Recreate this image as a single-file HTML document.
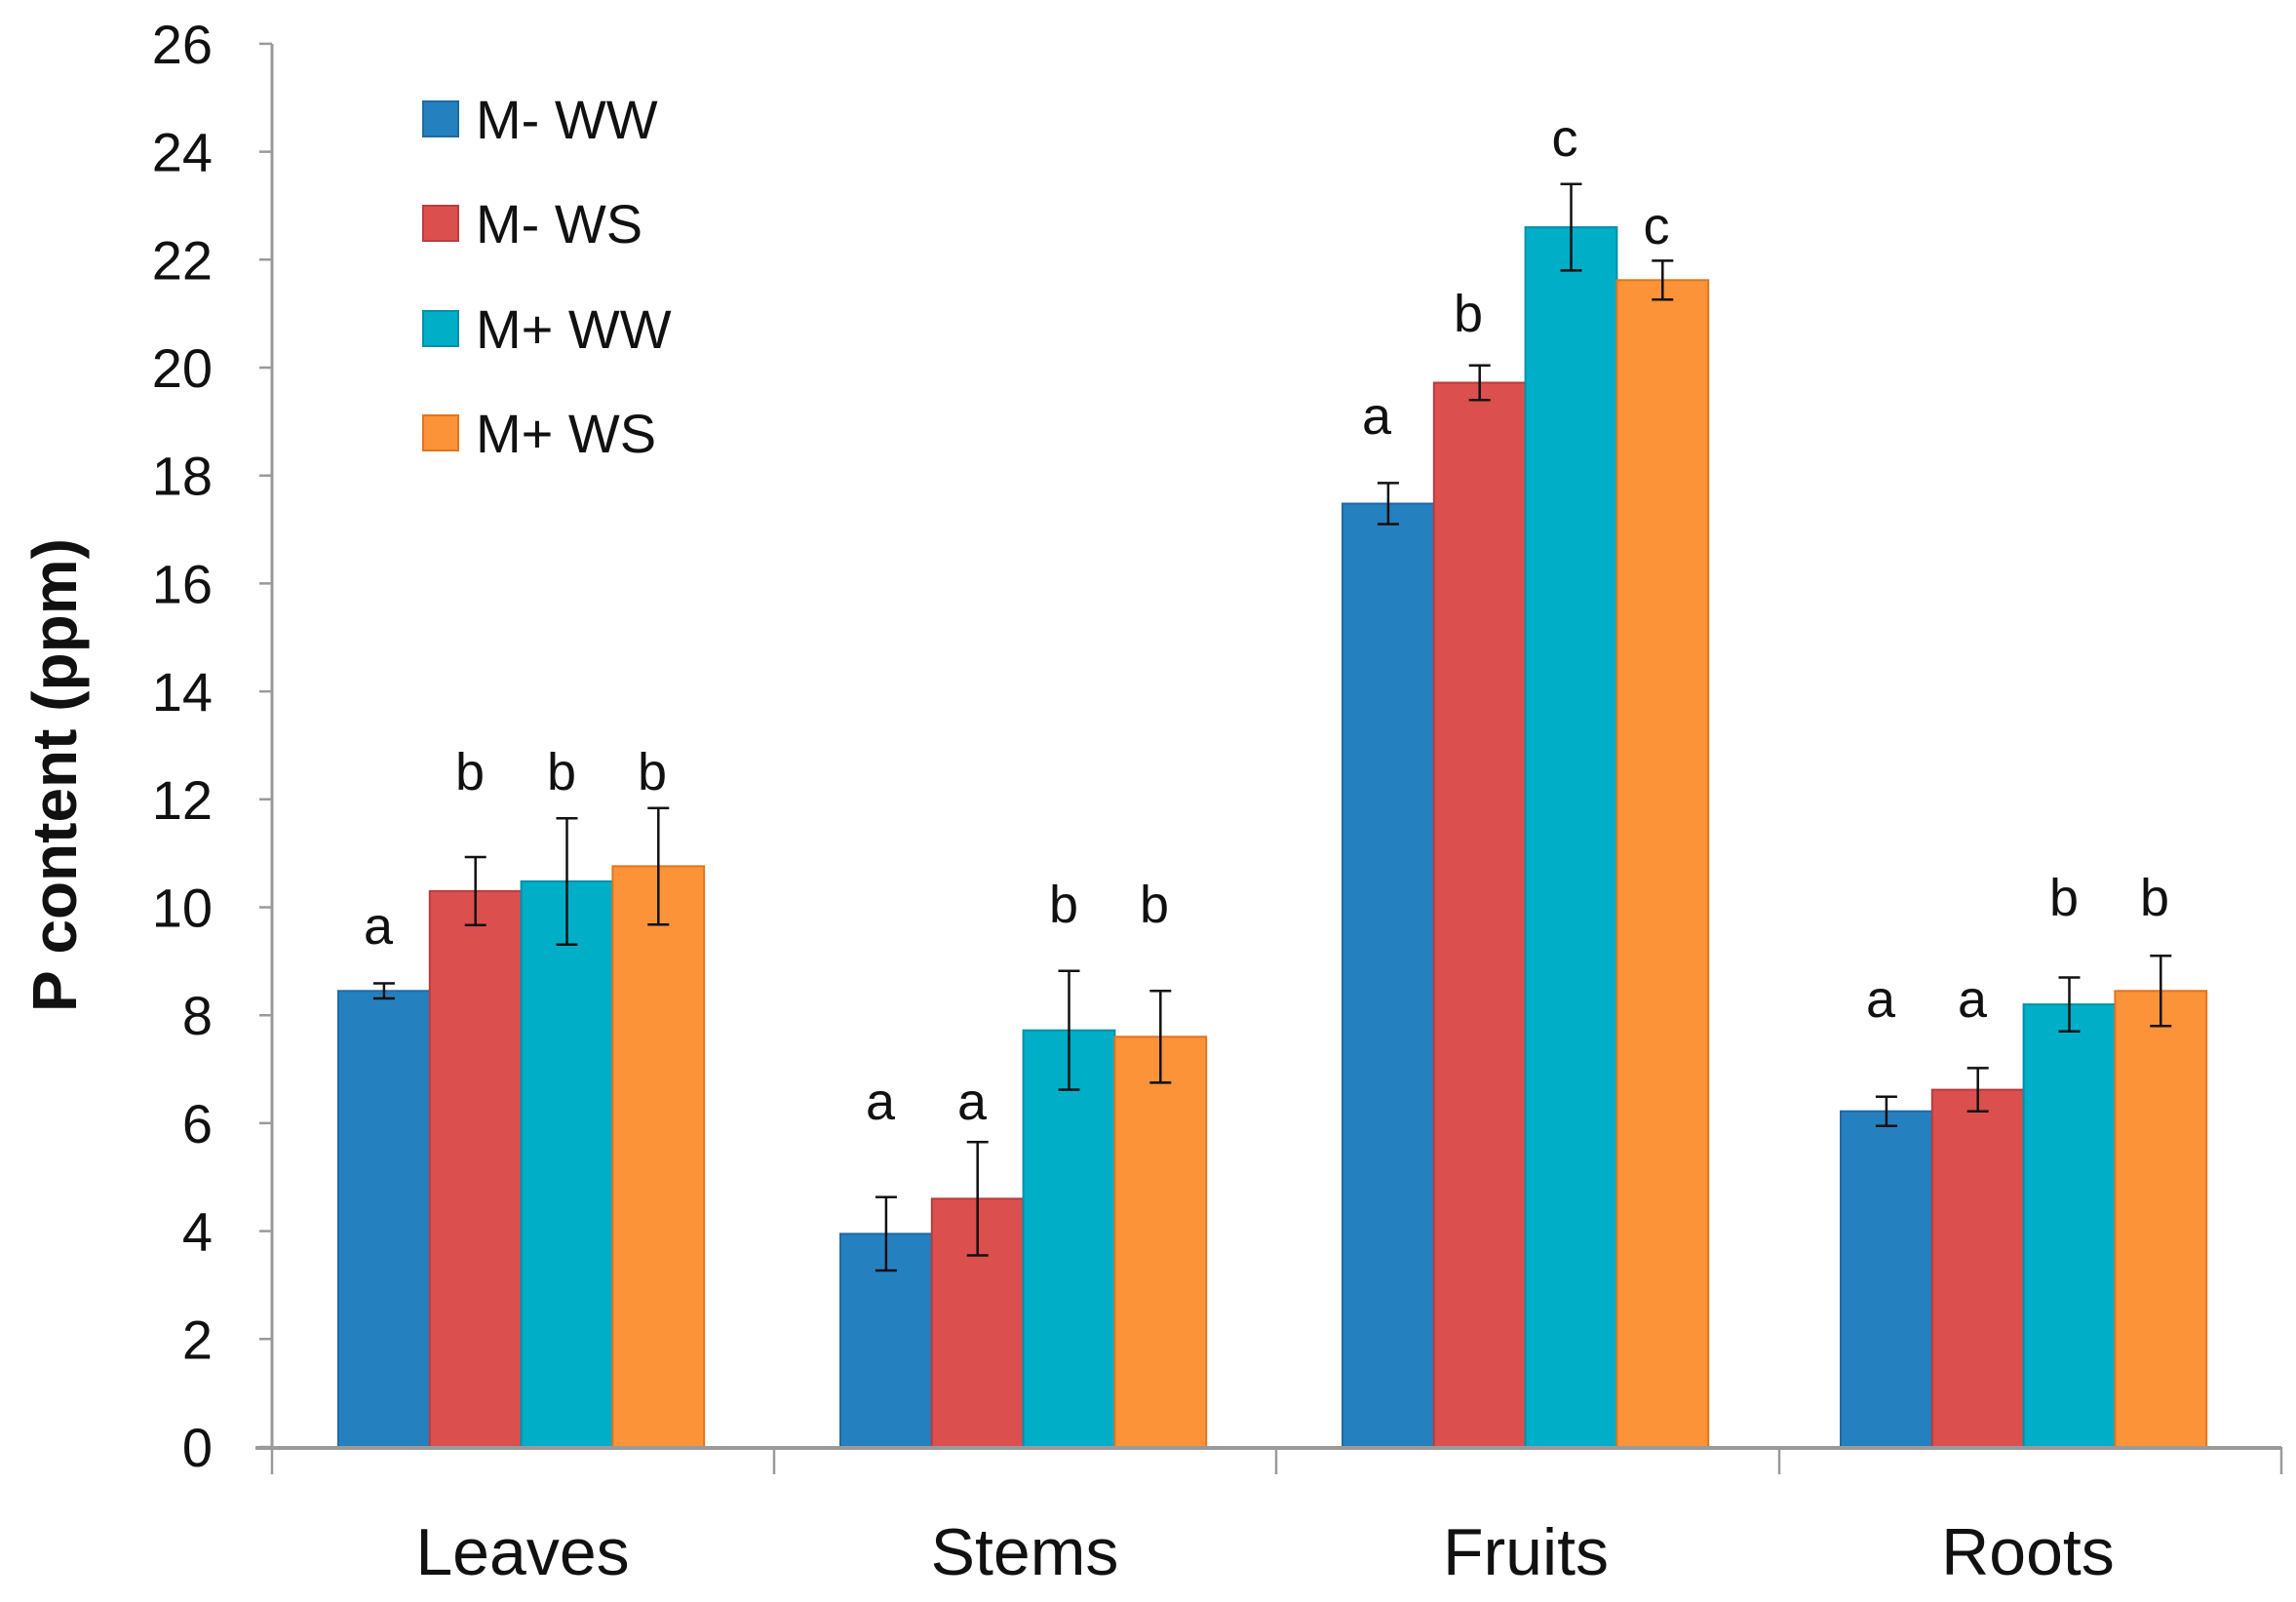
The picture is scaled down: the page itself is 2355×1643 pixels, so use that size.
<!DOCTYPE html>
<html><head><meta charset="utf-8"><style>body{margin:0;background:#fff}svg{display:block}</style></head>
<body>
<svg xmlns="http://www.w3.org/2000/svg" width="2355" height="1643" viewBox="0 0 2355 1643" font-family="'Liberation Sans', sans-serif">
<rect width="2355" height="1643" fill="#fff"/>
<g stroke-width="2">
<rect x="347" y="1016.3" width="93.8" height="467.7" fill="#2580c0" stroke="#1f6aa3"/>
<rect x="440.8" y="913.9" width="93.8" height="570.1" fill="#dc4f4f" stroke="#b83d3d"/>
<rect x="534.6" y="903.9" width="93.8" height="580.1" fill="#00aec8" stroke="#0090a8"/>
<rect x="628.4" y="888.4" width="93.8" height="595.6" fill="#fd9339" stroke="#e07420"/>
<rect x="862" y="1265.4" width="93.8" height="218.6" fill="#2580c0" stroke="#1f6aa3"/>
<rect x="955.8" y="1229.4" width="93.8" height="254.6" fill="#dc4f4f" stroke="#b83d3d"/>
<rect x="1049.6" y="1056.7" width="93.8" height="427.3" fill="#00aec8" stroke="#0090a8"/>
<rect x="1143.4" y="1063.3" width="93.8" height="420.7" fill="#fd9339" stroke="#e07420"/>
<rect x="1377" y="516.5" width="93.8" height="967.5" fill="#2580c0" stroke="#1f6aa3"/>
<rect x="1470.8" y="392.5" width="93.8" height="1091.5" fill="#dc4f4f" stroke="#b83d3d"/>
<rect x="1564.6" y="233.1" width="93.8" height="1250.9" fill="#00aec8" stroke="#0090a8"/>
<rect x="1658.4" y="287.3" width="93.8" height="1196.7" fill="#fd9339" stroke="#e07420"/>
<rect x="1888" y="1139.7" width="93.8" height="344.3" fill="#2580c0" stroke="#1f6aa3"/>
<rect x="1981.8" y="1117.6" width="93.8" height="366.4" fill="#dc4f4f" stroke="#b83d3d"/>
<rect x="2075.6" y="1030.1" width="93.8" height="453.9" fill="#00aec8" stroke="#0090a8"/>
<rect x="2169.4" y="1016.3" width="93.8" height="467.7" fill="#fd9339" stroke="#e07420"/>
</g>
<path fill="none" stroke="#111" stroke-width="2.5" d="
M393.9 1008.5V1024M382.9 1008.5h22M382.9 1024h22
M487.7 879V948.8M476.7 879h22M476.7 948.8h22
M581.5 839.2V968.7M570.5 839.2h22M570.5 968.7h22
M675.3 828.7V948.2M664.3 828.7h22M664.3 948.2h22
M908.9 1227.7V1303M897.9 1227.7h22M897.9 1303h22
M1002.7 1171.3V1287.5M991.7 1171.3h22M991.7 1287.5h22
M1096.5 995.8V1117.6M1085.5 995.8h22M1085.5 1117.6h22
M1190.3 1016.3V1110.4M1179.3 1016.3h22M1179.3 1110.4h22
M1423.9 495.4V537.5M1412.9 495.4h22M1412.9 537.5h22
M1517.7 374.8V410.2M1506.7 374.8h22M1506.7 410.2h22
M1611.5 188.8V277.4M1600.5 188.8h22M1600.5 277.4h22
M1705.3 267.4V307.3M1694.3 267.4h22M1694.3 307.3h22
M1934.9 1124.8V1154.7M1923.9 1124.8h22M1923.9 1154.7h22
M2028.7 1095.4V1139.7M2017.7 1095.4h22M2017.7 1139.7h22
M2122.5 1002.5V1057.8M2111.5 1002.5h22M2111.5 1057.8h22
M2216.3 980.3V1052.3M2205.3 980.3h22M2205.3 1052.3h22"/>
<g font-size="54" text-anchor="middle" fill="#111">
<text x="388" y="968">a</text><text x="482" y="810">b</text><text x="576" y="810">b</text><text x="669" y="810">b</text>
<text x="903" y="1148">a</text><text x="997" y="1148">a</text><text x="1091" y="946">b</text><text x="1184" y="946">b</text>
<text x="1412" y="445">a</text><text x="1506" y="340">b</text><text x="1605" y="160">c</text><text x="1699" y="250">c</text>
<text x="1929" y="1043">a</text><text x="2023" y="1043">a</text><text x="2117" y="939">b</text><text x="2210" y="939">b</text>
</g>
<line x1="279" y1="45" x2="279" y2="1486" stroke="#9a9a9a" stroke-width="3"/>
<path stroke="#9a9a9a" stroke-width="2.5" d="M266 1484h13M266 1373.3h13M266 1262.6h13M266 1151.9h13M266 1041.2h13M266 930.5h13M266 819.8h13M266 709.1h13M266 598.4h13M266 487.7h13M266 377h13M266 266.3h13M266 155.6h13M266 44.9h13"/>
<g font-size="56" text-anchor="end" fill="#111">
<text x="218" y="1504">0</text><text x="218" y="1393.3">2</text><text x="218" y="1282.6">4</text><text x="218" y="1171.9">6</text><text x="218" y="1061.2">8</text><text x="218" y="950.5">10</text><text x="218" y="839.8">12</text><text x="218" y="729.1">14</text><text x="218" y="618.4">16</text><text x="218" y="507.7">18</text><text x="218" y="397">20</text><text x="218" y="286.3">22</text><text x="218" y="175.6">24</text><text x="218" y="64.9">26</text>
</g>
<line x1="262" y1="1485" x2="2340" y2="1485" stroke="#9a9a9a" stroke-width="4"/>
<path stroke="#9a9a9a" stroke-width="2.5" d="M279 1484v28M794 1484v28M1309 1484v28M1825 1484v28M2340 1484v28"/>
<g font-size="68" text-anchor="middle" fill="#111">
<text x="536" y="1615">Leaves</text><text x="1051" y="1615">Stems</text><text x="1565" y="1615">Fruits</text><text x="2080" y="1615">Roots</text>
</g>
<text transform="translate(78,795) rotate(-90)" font-size="64" font-weight="bold" text-anchor="middle" fill="#111">P content (ppm)</text>
<g stroke-width="2">
<rect x="434" y="104" width="36" height="36" fill="#2580c0" stroke="#1f6aa3"/>
<rect x="434" y="211" width="36" height="36" fill="#dc4f4f" stroke="#b83d3d"/>
<rect x="434" y="319" width="36" height="36" fill="#00aec8" stroke="#0090a8"/>
<rect x="434" y="426" width="36" height="36" fill="#fd9339" stroke="#e07420"/>
</g>
<g font-size="56" fill="#111">
<text x="488" y="142">M- WW</text><text x="488" y="249">M- WS</text><text x="488" y="357">M+ WW</text><text x="488" y="464">M+ WS</text>
</g>
</svg>
</body></html>
